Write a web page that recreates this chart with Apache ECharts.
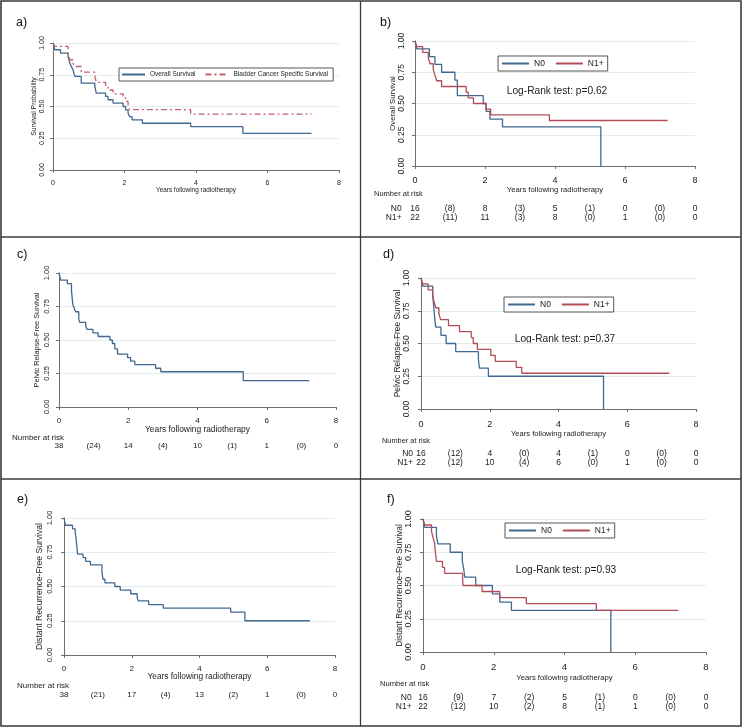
<html>
<head>
<meta charset="utf-8">
<script src="https://cdn.jsdelivr.net/npm/echarts@6/dist/echarts.min.js"></script>
</head>
<body style="margin:0">
<div id="main" style="width:743px;height:728px;"></div>
<script type="text/javascript">
// KM estimates: [years, survival]
var aOverall = [[0,1],[0.05,0.947],[0.21,0.921],[0.42,0.895],[0.47,0.842],[0.51,0.816],[0.56,0.789],[0.61,0.737],[0.79,0.684],[1.17,0.658],[1.21,0.605],[1.47,0.579],[1.54,0.553],[1.68,0.526],[1.96,0.5],[2.03,0.474],[2.1,0.447],[2.14,0.421],[2.21,0.395],[2.5,0.368],[3.85,0.342],[5.31,0.288],[7.23,0.288]];
var aBladder = [[0,1],[0.05,0.974],[0.42,0.92],[0.47,0.868],[0.56,0.84],[0.61,0.815],[0.79,0.77],[1.17,0.74],[1.21,0.69],[1.47,0.66],[1.54,0.63],[1.68,0.6],[1.96,0.57],[2.03,0.54],[2.1,0.505],[2.14,0.475],[3.85,0.44],[7.23,0.44]];

var bN0 = [[0,1],[0.05,0.9375],[0.41,0.875],[0.57,0.8125],[0.76,0.75],[1.14,0.6875],[1.21,0.5625],[1.95,0.5],[2.03,0.4375],[2.14,0.375],[2.5,0.3125],[5.31,0]];
var bN1 = [[0,1],[0.05,0.955],[0.22,0.909],[0.38,0.864],[0.43,0.818],[0.52,0.773],[0.57,0.727],[0.62,0.682],[0.76,0.636],[1.46,0.591],[1.52,0.545],[1.67,0.5],[2.03,0.455],[2.16,0.409],[3.84,0.364],[7.22,0.364]];

var cAll = [[0,1],[0.05,0.947],[0.24,0.921],[0.36,0.868],[0.38,0.816],[0.4,0.763],[0.44,0.737],[0.48,0.711],[0.57,0.658],[0.6,0.632],[0.77,0.605],[0.81,0.579],[0.98,0.553],[1.13,0.526],[1.47,0.5],[1.54,0.474],[1.61,0.434],[1.69,0.395],[1.98,0.368],[2.07,0.342],[2.19,0.316],[2.79,0.289],[2.94,0.263],[5.32,0.197],[7.23,0.197]];

var dN0 = [[0,1],[0.05,0.9375],[0.34,0.875],[0.36,0.8125],[0.38,0.75],[0.4,0.6875],[0.43,0.625],[0.58,0.5625],[0.73,0.5],[1.01,0.4375],[1.67,0.375],[1.7,0.3125],[1.96,0.25],[5.31,0]];
var dN1 = [[0,1],[0.05,0.955],[0.21,0.909],[0.34,0.864],[0.38,0.818],[0.43,0.773],[0.52,0.727],[0.57,0.682],[0.8,0.636],[1.12,0.591],[1.46,0.545],[1.52,0.5],[1.64,0.455],[2.03,0.409],[2.16,0.364],[2.77,0.318],[2.93,0.273],[7.22,0.273]];

var eAll = [[0,1],[0.04,0.947],[0.25,0.921],[0.33,0.895],[0.36,0.842],[0.38,0.789],[0.4,0.737],[0.56,0.711],[0.64,0.684],[0.78,0.658],[1.12,0.605],[1.15,0.553],[1.21,0.526],[1.5,0.5],[1.66,0.474],[1.97,0.447],[2.16,0.421],[2.19,0.395],[2.5,0.368],[2.93,0.342],[4.92,0.313],[5.34,0.25],[7.26,0.25]];

var fN0 = [[0,1],[0.05,0.9375],[0.38,0.875],[0.42,0.8125],[0.77,0.75],[1.11,0.6875],[1.15,0.625],[1.18,0.5625],[1.49,0.5],[1.96,0.4375],[2.17,0.375],[2.5,0.3125],[5.31,0]];
var fN1 = [[0,1],[0.05,0.955],[0.24,0.909],[0.28,0.864],[0.33,0.818],[0.34,0.773],[0.36,0.727],[0.38,0.682],[0.55,0.636],[0.61,0.591],[1.12,0.545],[1.13,0.5],[1.67,0.455],[2.17,0.409],[2.92,0.364],[4.9,0.313],[7.22,0.313]];

// number at risk, one value per year 0..8
var bRiskN0 = ['16','(8)','8','(3)','5','(1)','0','(0)','0'];
var bRiskN1 = ['22','(11)','11','(3)','8','(0)','1','(0)','0'];
var cRisk   = ['38','(24)','14','(4)','10','(1)','1','(0)','0'];
var dRiskN0 = ['16','(12)','4','(0)','4','(1)','0','(0)','0'];
var dRiskN1 = ['22','(12)','10','(4)','6','(0)','1','(0)','0'];
var eRisk   = ['38','(21)','17','(4)','13','(2)','1','(0)','0'];
var fRiskN0 = ['16','(9)','7','(2)','5','(1)','0','(0)','0'];
var fRiskN1 = ['22','(12)','10','(2)','8','(1)','1','(0)','0'];

var xTicks = [0, 2, 4, 6, 8];

var blue = '#41688f', red = '#b24d57';
var font = 'Liberation Sans';
var txt = '#222';
var axisCol = '#6e6e6e';
var gridCol = ['rgba(0,0,0,0)', '#e4eced', '#e4eced', '#e4eced', '#e4eced'];

var myChart = echarts.init(document.getElementById('main'), null, {renderer: 'canvas'});

var panels = [
    {tag:'a)', tx:16, ty:23, g:{left:53,top:43,width:286,height:127}, xo:4, yo:3, tfs:7, xlm:5.5, xnfs:6.4, xng:13.5, ylfs:7, ylm:4.5, ynfs:6.9, yng:11.5,
     yname:'Survival Probability',
     series:[{name:'Overall Survival', data:aOverall, color:blue}, {name:'Bladder Cancer Specific Survival', data:aBladder, color:'#c0636c', dash:[6,3,2,3]}],
     legend:{left:119, top:68, iw:23, fs:6.5, gap:9, pad:[3,5,3,2]}},
    {tag:'b)', tx:380, ty:23, g:{left:415,top:41,width:280,height:125}, xo:5, yo:4, tfs:9, xlm:4.8, xnfs:7.7, xng:13.5, ylfs:8.5, ylm:4.7, ynfs:7.8, yng:14,
     yname:'Overall Survival',
     series:[{name:'N0', data:bN0, color:blue}, {name:'N1+', data:bN1, color:red}],
     legend:{left:498, top:56, iw:27, fs:8.5, gap:10, pad:[3,4,3,3]},
     logrank:{x:557, y:91, text:'Log-Rank test: p=0.62'},
     nar:{x:374, y:194.3, fs:7.5}, rfs:8.5, rows:[{name:'N0', vals:bRiskN0, off:43}, {name:'N1+', vals:bRiskN1, off:51.3}], rlx:401.7},
    {tag:'c)', tx:17, ty:255, g:{left:59,top:273,width:277,height:134}, xo:5, yo:4, tfs:8, xlm:5, xnfs:8.4, xng:12.5, ylfs:7.5, ylm:4.5, ynfs:7.4, yng:14.5,
     yname:'Pelvic Relapse-Free Survival',
     series:[{name:'PRFS', data:cAll, color:blue}],
     nar:{x:12, y:437.3, fs:8}, rfs:8, rows:[{name:'', vals:cRisk, off:39}]},
    {tag:'d)', tx:383, ty:255, g:{left:421,top:278,width:275,height:131}, xo:5, yo:5, tfs:9, xlm:6, xnfs:7.6, xng:14.5, ylfs:8.5, ylm:4.8, ynfs:8.4, yng:13.4,
     yname:'Pelvic Relapse-Free Survival',
     series:[{name:'N0', data:dN0, color:blue}, {name:'N1+', data:dN1, color:red}],
     legend:{left:504, top:297, iw:27, fs:8.5, gap:10, pad:[3,4,3,3]},
     logrank:{x:565, y:339, text:'Log-Rank test: p=0.37'},
     nar:{x:382, y:441, fs:7.4}, rfs:8.5, rows:[{name:'N0', vals:dRiskN0, off:44.3}, {name:'N1+', vals:dRiskN1, off:53.3}], rlx:413},
    {tag:'e)', tx:17, ty:500, g:{left:64,top:518,width:271,height:137}, xo:4, yo:4, tfs:8, xlm:5.3, xnfs:8.3, xng:13.5, ylfs:7.5, ylm:6, ynfs:8.6, yng:15.5,
     yname:'Distant Recurrence-Free Survival',
     series:[{name:'DRFS', data:eAll, color:blue}],
     nar:{x:17, y:685.7, fs:8}, rfs:8, rows:[{name:'', vals:eRisk, off:40}]},
    {tag:'f)', tx:387, ty:500, g:{left:423,top:519,width:283,height:133}, xo:5, yo:4, tfs:9.5, xlm:5.5, xnfs:7.7, xng:15, ylfs:9, ylm:5.5, ynfs:8.3, yng:15,
     yname:'Distant Recurrence-Free Survival',
     series:[{name:'N0', data:fN0, color:blue}, {name:'N1+', data:fN1, color:red}],
     legend:{left:505, top:523, iw:27, fs:8.5, gap:10, pad:[3,4,3,3]},
     logrank:{x:566, y:570, text:'Log-Rank test: p=0.93'},
     nar:{x:380, y:684.3, fs:7.6}, rfs:8.5, rows:[{name:'N0', vals:fRiskN0, off:45.7}, {name:'N1+', vals:fRiskN1, off:54.7}], rlx:411.7}
];

var grids = [], xAxes = [], yAxes = [], series = [], legends = [], graphics = [];

// panel frames
graphics.push({type:'rect', shape:{x:1, y:1, width:740, height:725}, style:{fill:null, stroke:'#3a3a3a', lineWidth:1.6}, silent:true});
graphics.push({type:'line', shape:{x1:360.5, y1:1, x2:360.5, y2:726}, style:{stroke:'#3a3a3a', lineWidth:1.3}, silent:true});
graphics.push({type:'line', shape:{x1:1, y1:237, x2:741, y2:237}, style:{stroke:'#3a3a3a', lineWidth:1.3}, silent:true});
graphics.push({type:'line', shape:{x1:1, y1:479, x2:741, y2:479}, style:{stroke:'#3a3a3a', lineWidth:1.3}, silent:true});

panels.forEach(function (p, gi) {
    grids.push(p.g);
    var xi = xAxes.length;
    xAxes.push({
        gridIndex: gi, type: 'value', min: 0, max: 8, interval: 2, position: 'bottom', offset: p.xo,
        axisLine: {show: true, lineStyle: {color: axisCol, width: 1}},
        axisTick: {show: true, length: 3, lineStyle: {color: axisCol}},
        axisLabel: {margin: p.xlm, fontSize: p.tfs, color: txt, fontFamily: font},
        splitLine: {show: false},
        name: 'Years following radiotherapy', nameLocation: 'middle', nameGap: p.xng,
        nameTextStyle: {fontSize: p.xnfs, color: txt, fontFamily: font}
    });
    yAxes.push({
        gridIndex: gi, type: 'value', min: 0, max: 1, interval: 0.25, position: 'left', offset: p.yo,
        axisLine: {show: true, lineStyle: {color: axisCol, width: 1}},
        axisTick: {show: true, length: 3, lineStyle: {color: axisCol}},
        axisLabel: {rotate: 90, margin: p.ylm, fontSize: p.ylfs, color: txt, fontFamily: font,
            formatter: function (v) { return v.toFixed(2); }},
        splitLine: {show: true, lineStyle: {color: gridCol, width: 1}},
        name: p.yname, nameLocation: 'middle', nameGap: p.yng,
        nameTextStyle: {fontSize: p.ynfs, color: txt, fontFamily: font}
    });
    var yi = yAxes.length - 1;

    p.series.forEach(function (s) {
        series.push({
            name: s.name, type: 'line', step: 'end', xAxisIndex: xi, yAxisIndex: yi,
            symbol: 'none', data: s.data, color: s.color,
            lineStyle: {color: s.color, width: 1.3, type: s.dash || 'solid'}
        });
    });

    if (p.legend) {
        legends.push({
            data: p.series.map(function (s) { return s.name; }),
            left: p.legend.left, top: p.legend.top, orient: 'horizontal',
            itemWidth: p.legend.iw, itemHeight: 8, itemGap: p.legend.gap,
            padding: p.legend.pad, borderColor: '#555', borderWidth: 1, borderRadius: 0,
            backgroundColor: '#fff', selectedMode: false,
            itemStyle: {opacity: 0, color: 'rgba(0,0,0,0)', borderWidth: 0},
            textStyle: {fontSize: p.legend.fs, color: txt, fontFamily: font}
        });
    }

    // number-at-risk rows as extra label-only axes under the plot
    if (p.rows) {
        p.rows.forEach(function (r) {
            var vals = r.vals;
            xAxes.push({
                gridIndex: gi, type: 'value', min: 0, max: 8, interval: 1, position: 'bottom', offset: r.off,
                axisLine: {show: false}, axisTick: {show: false}, splitLine: {show: false},
                axisLabel: {margin: 0, verticalAlign: 'middle', fontSize: p.rfs, color: txt, fontFamily: font,
                    formatter: function (v) { return vals[Math.round(v)]; }}
            });
            if (r.name) {
                graphics.push({type:'text', x: p.rlx, y: p.g.top + p.g.height + r.off, silent:true,
                    style:{text:r.name, fontSize:p.rfs, fill:txt, fontFamily:font, align:'right', verticalAlign:'middle'}});
            }
        });
        graphics.push({type:'text', x: p.nar.x, y: p.nar.y, silent:true,
            style:{text:'Number at risk', fontSize:p.nar.fs, fill:txt, fontFamily:font, verticalAlign:'middle'}});
    }

    if (p.logrank) {
        graphics.push({type:'text', x: p.logrank.x, y: p.logrank.y, silent:true,
            style:{text:p.logrank.text, fontSize:10.2, fill:txt, fontFamily:font, align:'center', verticalAlign:'middle'}});
    }

    graphics.push({type:'text', x: p.tx, y: p.ty, silent:true,
        style:{text:p.tag, fontSize:12.5, fill:'#111', fontFamily:font, verticalAlign:'middle'}});
});

var option = {
    animation: false,
    backgroundColor: '#fff',
    textStyle: {fontFamily: font},
    grid: grids,
    xAxis: xAxes,
    yAxis: yAxes,
    legend: legends,
    series: series,
    graphic: graphics
};
myChart.setOption(option);
</script>
</body>
</html>
